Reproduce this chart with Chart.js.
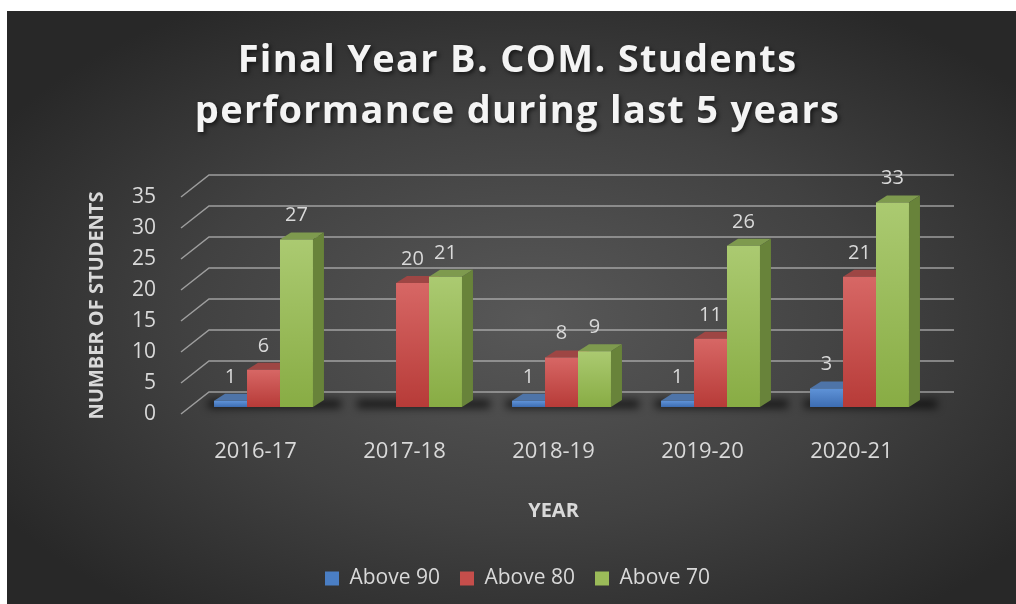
<!DOCTYPE html>
<html>
<head>
<meta charset="utf-8">
<script src="https://cdn.jsdelivr.net/npm/chart.js@4.4.1/dist/chart.umd.min.js"></script>
<style>
    html, body { margin: 0; padding: 0; background: #fff; }
    #wrap {
        position: absolute; left: 7px; top: 11px; width: 1009px; height: 593px;
        background: radial-gradient(ellipse 62% 62% at 52% 52%, #585858 0%, #414141 55%, #282828 100%);
    }
</style>
</head>
<body>
<div id="wrap"><canvas id="graph" width="1009" height="593"></canvas></div>
<script>
const years = ['2016-17', '2017-18', '2018-19', '2019-20', '2020-21'];
const above90 = [1, null, 1, 1, 3];
const above80 = [6, 20, 8, 11, 21];
const above70 = [27, 21, 9, 26, 33];
const seriesNames = ['Above 90', 'Above 80', 'Above 70'];
const yTicks = [0, 5, 10, 15, 20, 25, 30, 35];

// light/dark = front face gradient, top/side = 3d faces
const palette = [
    {light: '#5f93d8', dark: '#3d6db2', top: '#4e74a8', side: '#3a5d90', legend: '#4a7ec4'},
    {light: '#d76765', dark: '#b73b38', top: '#9e4644', side: '#8a3432', legend: '#c54e4b'},
    {light: '#abca71', dark: '#88ac44', top: '#7e9a4e', side: '#68833a', legend: '#9bbb59'}
];

const FRONT = {x: 8, y: -7};   // bar front face, from the axis plane
const DEPTH = {x: 11, y: -7};  // bar thickness
const WALL = {x: 28, y: -22};  // back wall
const textColor = '#d9d9d9';
const font = 'Open Sans';

function frontFill(i) {
    return function (c) {
        const ys = c.chart.scales.y;
        if (c.type !== 'data' || c.raw == null || !ys) return palette[i].dark;
        const top = ys.getPixelForValue(c.raw);
        const bot = ys.getPixelForValue(0);
        if (!isFinite(top) || !isFinite(bot) || top === bot) return palette[i].dark;
        const g = c.chart.ctx.createLinearGradient(0, top, 0, bot);
        g.addColorStop(0, palette[i].light);
        g.addColorStop(1, palette[i].dark);
        return g;
    };
}

const bars3d = {
    id: 'bars3d',
    beforeDatasetsDraw(chart) {
        const {ctx, chartArea: a, scales: {y}} = chart;
        ctx.save();
        // back wall gridlines
        ctx.strokeStyle = 'rgba(190,190,190,0.75)';
        ctx.lineWidth = 1.5;
        yTicks.forEach(v => {
            const py = y.getPixelForValue(v);
            ctx.beginPath();
            ctx.moveTo(a.left, py);
            ctx.lineTo(a.left + WALL.x, py + WALL.y);
            ctx.lineTo(a.right + WALL.x, py + WALL.y);
            ctx.stroke();
        });

        const metas = chart.data.datasets.map((d, i) => chart.getDatasetMeta(i));

        // floor shadows
        ctx.filter = 'blur(4px)';
        ctx.fillStyle = 'rgba(0,0,0,0.7)';
        years.forEach((yr, j) => {
            const first = metas[0].data[j], last = metas[2].data[j];
            const x1 = first.x - first.width / 2 + FRONT.x;
            const x2 = last.x + last.width / 2 + FRONT.x;
            const b = last.base + FRONT.y;
            ctx.fillRect(x1 - 6, b - 7, x2 - x1 + 34, 8);
        });
        ctx.filter = 'none';

        // top and side faces, left to right
        years.forEach((yr, j) => {
            metas.forEach((m, i) => {
                if (chart.data.datasets[i].data[j] == null) return;
                const bar = m.data[j];
                const x1 = bar.x - bar.width / 2 + FRONT.x;
                const x2 = bar.x + bar.width / 2 + FRONT.x;
                const t = bar.y + FRONT.y;
                const b = bar.base + FRONT.y;
                ctx.fillStyle = palette[i].top;
                ctx.beginPath();
                ctx.moveTo(x1, t);
                ctx.lineTo(x2, t);
                ctx.lineTo(x2 + DEPTH.x, t + DEPTH.y);
                ctx.lineTo(x1 + DEPTH.x, t + DEPTH.y);
                ctx.closePath();
                ctx.fill();
                ctx.fillStyle = palette[i].side;
                ctx.beginPath();
                ctx.moveTo(x2, t);
                ctx.lineTo(x2 + DEPTH.x, t + DEPTH.y);
                ctx.lineTo(x2 + DEPTH.x, b + DEPTH.y);
                ctx.lineTo(x2, b);
                ctx.closePath();
                ctx.fill();
            });
        });
        ctx.restore();

        // front faces are drawn by chart.js, moved into the bar plane
        ctx.save();
        ctx.translate(FRONT.x, FRONT.y);
    },
    afterDatasetsDraw(chart) {
        const ctx = chart.ctx;
        ctx.restore();

        // value labels
        ctx.save();
        ctx.fillStyle = textColor;
        ctx.font = '20px "' + font + '"';
        ctx.textAlign = 'center';
        ctx.textBaseline = 'middle';
        chart.data.datasets.forEach((ds, i) => {
            chart.getDatasetMeta(i).data.forEach((bar, j) => {
                const v = ds.data[j];
                if (v == null) return;
                ctx.fillText(String(v), bar.x + FRONT.x, bar.y + FRONT.y - 24);
            });
        });
        ctx.restore();
    }
};

const series = [above90, above80, above70];

const graph = new Chart(document.getElementById('graph'), {
    type: 'bar',
    data: {
        labels: years,
        datasets: series.map((d, i) => ({
            label: seriesNames[i],
            data: d,
            backgroundColor: frontFill(i),
            borderWidth: 0,
            clip: false,
            categoryPercentage: 0.664,
            barPercentage: 1
        }))
    },
    options: {
        responsive: false,
        animation: false,
        devicePixelRatio: 1,
        layout: {padding: {top: 0, left: 12, right: 0, bottom: 5}},
        plugins: {
            title: {
                display: true,
                text: ['Final Year B. COM. Students', 'performance during last 5 years'],
                color: '#f4f4f4',
                font: {family: font, size: 38, weight: 'bold', lineHeight: 51 / 38},
                padding: {top: 25, bottom: 59}
            },
            legend: {
                position: 'bottom',
                labels: {
                    color: textColor,
                    font: {family: font, size: 21},
                    boxWidth: 14,
                    boxHeight: 14,
                    padding: 20,
                    generateLabels: chart => Chart.defaults.plugins.legend.labels.generateLabels(chart)
                        .map((l, i) => Object.assign(l, {fillStyle: palette[i].legend, strokeStyle: 'rgba(0,0,0,0)', lineWidth: 0}))
                }
            },
            tooltip: {enabled: false}
        },
        scales: {
            x: {
                grid: {display: false, drawTicks: false},
                border: {display: false},
                ticks: {color: textColor, font: {family: font, size: 22}, padding: 25},
                title: {
                    display: true, text: 'YEAR', color: textColor,
                    font: {family: font, size: 20, weight: 'bold'},
                    padding: {top: 0, bottom: 25}
                },
                afterFit(s) { s.height = 134; }
            },
            y: {
                min: 0,
                max: 35,
                grid: {display: false, drawTicks: false},
                border: {display: false},
                ticks: {
                    stepSize: 5, color: textColor, padding: 25,
                    font: {family: font, size: 21}
                },
                title: {
                    display: true, text: 'NUMBER OF STUDENTS', color: textColor,
                    font: {family: font, size: 20, weight: 'bold'},
                    padding: {top: 66, bottom: 0}
                },
                afterFit(s) { s.width = 162; }
            },
            pad: {
                position: 'right',
                display: true,
                grid: {display: false, drawTicks: false},
                border: {display: false},
                ticks: {display: false},
                afterFit(s) { s.width = 90; }
            }
        }
    },
    plugins: [bars3d]
});

// spaced, shadowed title like the original
const titleDraw = graph.titleBlock.draw;
graph.titleBlock.draw = function (area) {
    const ctx = this.ctx;
    ctx.save();
    ctx.letterSpacing = '1.3px';
    ctx.shadowColor = 'rgba(0,0,0,0.6)';
    ctx.shadowBlur = 4;
    ctx.shadowOffsetX = 2;
    ctx.shadowOffsetY = 2;
    titleDraw.call(this, area);
    ctx.restore();
};
graph.draw();
</script>
</body>
</html>
